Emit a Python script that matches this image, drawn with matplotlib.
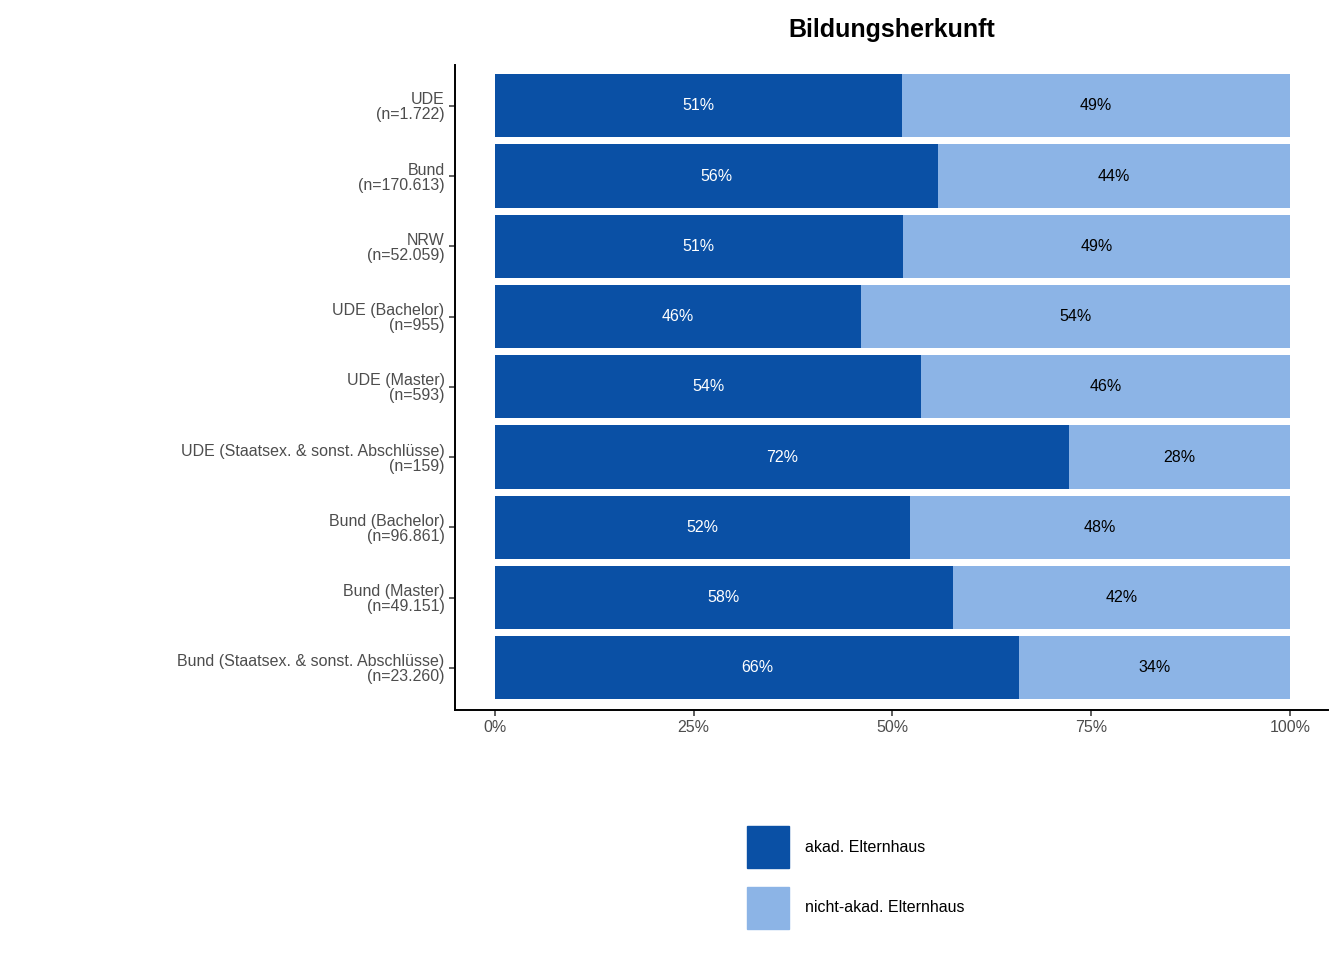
import matplotlib
matplotlib.use("Agg")
import matplotlib.pyplot as plt
from matplotlib.patches import Rectangle

plt.rcParams["font.family"] = "Liberation Sans"

categories = ["UDE\n(n=1.722)", "Bund\n(n=170.613)", "NRW\n(n=52.059)", "UDE (Bachelor)\n(n=955)",
              "UDE (Master)\n(n=593)", "UDE (Staatsex. & sonst. Abschlüsse)\n(n=159)",
              "Bund (Bachelor)\n(n=96.861)", "Bund (Master)\n(n=49.151)",
              "Bund (Staatsex. & sonst. Abschlüsse)\n(n=23.260)"]
akad = [0.512, 0.557, 0.513, 0.460, 0.536, 0.722, 0.522, 0.576, 0.659]
labels_akad = ["51%", "56%", "51%", "46%", "54%", "72%", "52%", "58%", "66%"]
labels_nicht = ["49%", "44%", "49%", "54%", "46%", "28%", "48%", "42%", "34%"]
xticks = [0, 0.25, 0.5, 0.75, 1.0]
xticklabels = ["0%", "25%", "50%", "75%", "100%"]
series_names = ["akad. Elternhaus", "nicht-akad. Elternhaus"]
c1, c2 = "#0a50a5", "#8cb4e6"

fig = plt.figure(figsize=(13.44, 9.6), dpi=100)
ax = fig.add_axes([455/1344, 1-710/960, (1328-455)/1344, (710-65)/960])
y = list(range(len(categories)))
nicht = [1 - a for a in akad]
ax.barh(y, akad, height=0.9, color=c1)
ax.barh(y, nicht, left=akad, height=0.9, color=c2)
for i in y:
    ax.text(akad[i]/2, i, labels_akad[i], ha="center", va="center", color="white", fontsize=11.5)
    ax.text(akad[i] + nicht[i]/2, i, labels_nicht[i], ha="center", va="center", color="black", fontsize=11.5)
ax.set_xlim(-0.0503, 1.0478)
ax.set_ylim(8.6, -0.58)
ax.set_yticks(y)
ax.set_yticklabels(categories, fontsize=11.5, color="#4d4d4d", linespacing=1.0)
ax.set_xticks(xticks)
ax.set_xticklabels(xticklabels, fontsize=11.5, color="#4d4d4d")
for s in ["top", "right"]:
    ax.spines[s].set_visible(False)
for s in ["left", "bottom"]:
    ax.spines[s].set_linewidth(1.4)
ax.tick_params(length=4, width=1.1, color="#333333")
fig.text(892/1344, 1-30/960, "Bildungsherkunft", ha="center", va="center", fontsize=18, fontweight="bold")

for j, (name, col) in enumerate(zip(series_names, [c1, c2])):
    yc = 847 + j*61
    fig.patches.append(Rectangle((747/1344, 1-(yc+21)/960), 42/1344, 42/960,
                                 transform=fig.transFigure, color=col))
    fig.text(805/1344, 1-yc/960, name, ha="left", va="center", fontsize=11.5)

fig.savefig("out.png", dpi=100)
